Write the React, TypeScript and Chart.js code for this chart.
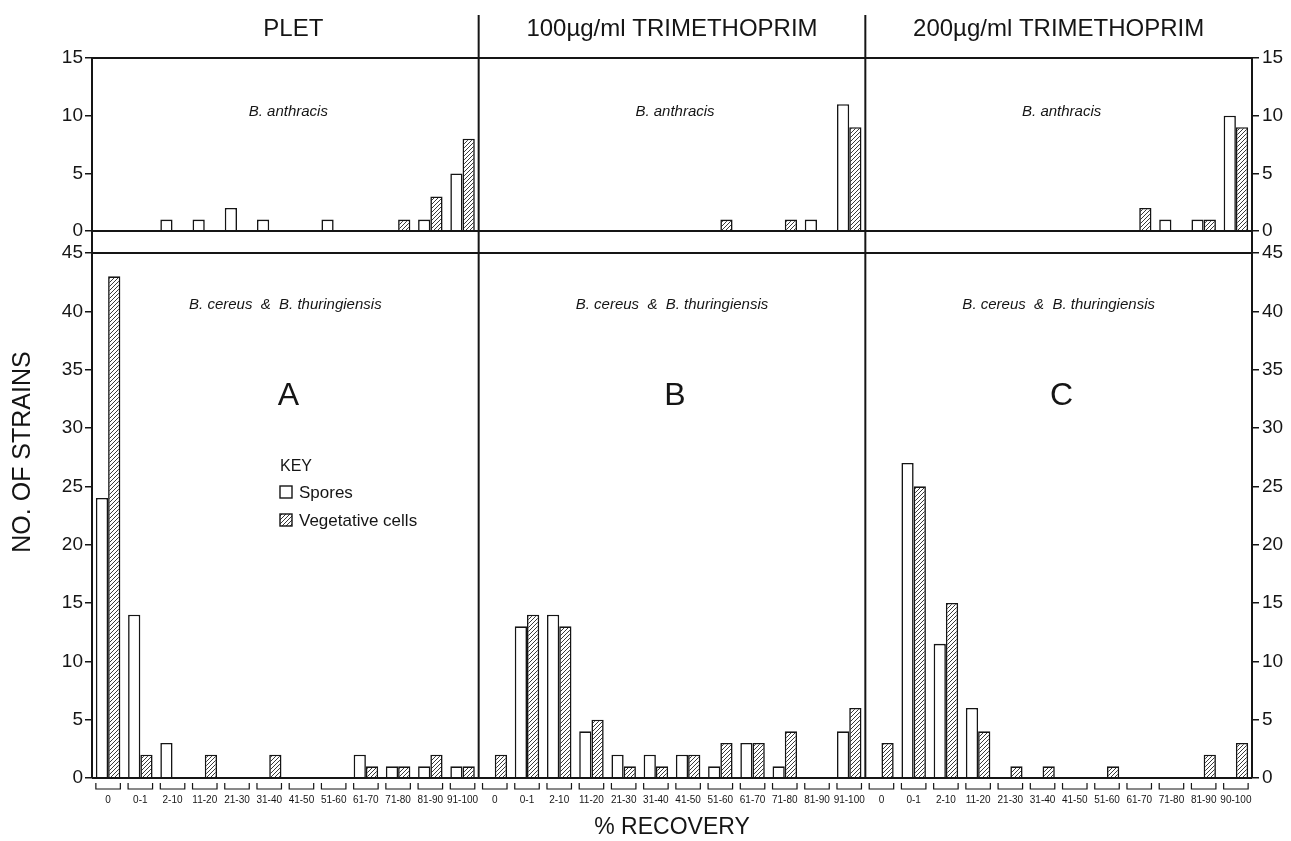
import React, { useEffect, useRef } from 'react';
import { Chart, registerables } from 'chart.js';

Chart.register(...registerables);

// ---------- DATA ----------
const panelTitles = ['PLET', '100µg/ml TRIMETHOPRIM', '200µg/ml TRIMETHOPRIM'];
const panelLetters = ['A', 'B', 'C'];
const topGroupLabel = 'B. anthracis';
const bottomGroupLabel = 'B. cereus  &  B. thuringiensis';
const seriesNames = ['Spores', 'Vegetative cells'];

const categoriesA = ['0', '0-1', '2-10', '11-20', '21-30', '31-40', '41-50', '51-60', '61-70', '71-80', '81-90', '91-100'];
const categoriesB = ['0', '0-1', '2-10', '11-20', '21-30', '31-40', '41-50', '51-60', '61-70', '71-80', '81-90', '91-100'];
const categoriesC = ['0', '0-1', '2-10', '11-20', '21-30', '31-40', '41-50', '51-60', '61-70', '71-80', '81-90', '90-100'];

// B. anthracis (upper panels)
const anthracisSporesA = [0, 0, 1, 1, 2, 1, 0, 1, 0, 0, 1, 5];
const anthracisVegA = [0, 0, 0, 0, 0, 0, 0, 0, 0, 1, 3, 8];
const anthracisSporesB = [0, 0, 0, 0, 0, 0, 0, 0, 0, 0, 1, 11];
const anthracisVegB = [0, 0, 0, 0, 0, 0, 0, 1, 0, 1, 0, 9];
const anthracisSporesC = [0, 0, 0, 0, 0, 0, 0, 0, 0, 1, 1, 10];
const anthracisVegC = [0, 0, 0, 0, 0, 0, 0, 0, 2, 0, 1, 9];

// B. cereus & B. thuringiensis (lower panels)
const cereusSporesA = [24, 14, 3, 0, 0, 0, 0, 0, 2, 1, 1, 1];
const cereusVegA = [43, 2, 0, 2, 0, 2, 0, 0, 1, 1, 2, 1];
const cereusSporesB = [0, 13, 14, 4, 2, 2, 2, 1, 3, 1, 0, 4];
const cereusVegB = [2, 14, 13, 5, 1, 1, 2, 3, 3, 4, 0, 6];
const cereusSporesC = [0, 27, 11.5, 6, 0, 0, 0, 0, 0, 0, 0, 0];
const cereusVegC = [3, 25, 15, 4, 1, 1, 0, 1, 0, 0, 2, 3];

const topTicks = [0, 5, 10, 15];
const bottomTicks = [0, 5, 10, 15, 20, 25, 30, 35, 40, 45];

const xTitle = '% RECOVERY';
const yTitle = 'NO. OF STRAINS';

// ---------- STYLE ----------
const FONT = '"Liberation Sans", Arial, sans-serif';
const INK = '#151515';

function makeHatch(): CanvasPattern | string {
  const c = document.createElement('canvas');
  c.width = 4;
  c.height = 4;
  const g = c.getContext('2d');
  if (!g) return '#999';
  g.fillStyle = '#ffffff';
  g.fillRect(0, 0, 4, 4);
  g.strokeStyle = '#3a3a3a';
  g.lineWidth = 1;
  g.beginPath();
  g.moveTo(0, 4);
  g.lineTo(4, 0);
  g.moveTo(-1, 1);
  g.lineTo(1, -1);
  g.moveTo(3, 5);
  g.lineTo(5, 3);
  g.stroke();
  return g.createPattern(c, 'repeat') || '#999';
}

export default function App() {
  const ref = useRef<HTMLCanvasElement>(null);

  useEffect(() => {
    const canvas = ref.current;
    if (!canvas) return;
    const hatch = makeHatch();

    const labels = [...categoriesA, ...categoriesB, ...categoriesC];
    const topSpores = [...anthracisSporesA, ...anthracisSporesB, ...anthracisSporesC];
    const topVeg = [...anthracisVegA, ...anthracisVegB, ...anthracisVegC];
    const botSpores = [...cereusSporesA, ...cereusSporesB, ...cereusSporesC];
    const botVeg = [...cereusVegA, ...cereusVegB, ...cereusVegC];
    const perPanel = categoriesA.length;

    const barCommon = {
      borderColor: INK,
      borderWidth: 1.6,
      categoryPercentage: 0.76,
      barPercentage: 1.0,
    };

    const line = (ctx: CanvasRenderingContext2D, x1: number, y1: number, x2: number, y2: number) => {
      ctx.beginPath();
      ctx.moveTo(x1, y1);
      ctx.lineTo(x2, y2);
      ctx.stroke();
    };

    const decor = {
      id: 'decor',
      beforeDraw(chart: any) {
        const ctx = chart.ctx;
        ctx.save();
        ctx.fillStyle = '#ffffff';
        ctx.fillRect(0, 0, chart.width, chart.height);
        ctx.restore();
      },
      afterDraw(chart: any) {
        const ctx: CanvasRenderingContext2D = chart.ctx;
        const { left, right, top, bottom } = chart.chartArea;
        const x = chart.scales.x;
        const yT = chart.scales.yTop;
        const yB = chart.scales.yBot;
        const step = x.getPixelForValue(1) - x.getPixelForValue(0);
        const div1 = (x.getPixelForValue(perPanel - 1) + x.getPixelForValue(perPanel)) / 2;
        const div2 = (x.getPixelForValue(2 * perPanel - 1) + x.getPixelForValue(2 * perPanel)) / 2;
        const edges = [left, div1, div2, right];
        const centers = [0, 1, 2].map((i) => (edges[i] + edges[i + 1]) / 2);

        ctx.save();
        ctx.strokeStyle = INK;
        ctx.lineWidth = 2;
        const hy = [yT.getPixelForValue(15), yT.getPixelForValue(0), yB.getPixelForValue(45), yB.getPixelForValue(0)];
        hy.forEach((yy) => line(ctx, left, yy, right, yy));
        line(ctx, left, top, left, bottom);
        line(ctx, right, top, right, bottom);
        line(ctx, div1, 15, div1, bottom);
        line(ctx, div2, 15, div2, bottom);

        // brackets under categories
        ctx.lineWidth = 1.2;
        const half = step * 0.38;
        for (let i = 0; i < labels.length; i++) {
          const cx = x.getPixelForValue(i);
          ctx.beginPath();
          ctx.moveTo(cx - half, bottom + 5);
          ctx.lineTo(cx - half, bottom + 11);
          ctx.lineTo(cx + half, bottom + 11);
          ctx.lineTo(cx + half, bottom + 5);
          ctx.stroke();
        }

        ctx.fillStyle = INK;
        ctx.textAlign = 'center';
        ctx.textBaseline = 'middle';
        // panel titles
        ctx.font = `24px ${FONT}`;
        panelTitles.forEach((t, i) => ctx.fillText(t, centers[i] + (i === 0 ? 8 : 0), 29));
        // group labels
        ctx.font = `italic 15px ${FONT}`;
        centers.forEach((c) => ctx.fillText(topGroupLabel, c + 3, 112));
        centers.forEach((c) => ctx.fillText(bottomGroupLabel, c, 305));
        // panel letters
        ctx.font = `32px ${FONT}`;
        panelLetters.forEach((t, i) => ctx.fillText(t, centers[i] + 3, 396));

        // key
        const kx = left + 188;
        ctx.textAlign = 'left';
        ctx.font = `16px ${FONT}`;
        ctx.fillText('KEY', kx, 467);
        ctx.font = `17px ${FONT}`;
        ctx.lineWidth = 1.4;
        ctx.fillStyle = '#ffffff';
        ctx.fillRect(kx, 486, 12, 12);
        ctx.strokeRect(kx, 486, 12, 12);
        ctx.fillStyle = hatch as any;
        ctx.fillRect(kx, 514, 12, 12);
        ctx.strokeRect(kx, 514, 12, 12);
        ctx.fillStyle = INK;
        ctx.fillText(seriesNames[0], kx + 19, 493);
        ctx.fillText(seriesNames[1], kx + 19, 521);

        // y title
        ctx.save();
        ctx.translate(23, 452);
        ctx.rotate(-Math.PI / 2);
        ctx.textAlign = 'center';
        ctx.font = `25px ${FONT}`;
        ctx.fillText(yTitle, 0, 0);
        ctx.restore();

        ctx.restore();
      },
    };

    const yCommon = (extra: any) => ({
      type: 'linear',
      stacked: false,
      bounds: 'data',
      border: { display: false },
      grid: { display: true, drawOnChartArea: false, drawTicks: true, tickLength: 7, tickColor: INK, color: INK, lineWidth: 1.5 },
      ticks: { padding: 2, font: { family: FONT, size: 19 }, color: INK },
      ...extra,
    });

    const chart = new Chart(canvas, {
      type: 'bar',
      data: {
        labels,
        datasets: [
          { label: seriesNames[0], data: topSpores, yAxisID: 'yTop', stack: 's', backgroundColor: '#ffffff', ...barCommon },
          { label: seriesNames[1], data: topVeg, yAxisID: 'yTop', stack: 'v', backgroundColor: hatch as any, ...barCommon },
          { label: seriesNames[0], data: botSpores, yAxisID: 'yBot', stack: 's', backgroundColor: '#ffffff', ...barCommon },
          { label: seriesNames[1], data: botVeg, yAxisID: 'yBot', stack: 'v', backgroundColor: hatch as any, ...barCommon },
        ] as any,
      },
      options: {
        responsive: false,
        animation: false,
        layout: { padding: { top: 58, left: 0, right: 0, bottom: 0 } },
        plugins: {
          legend: { display: false },
          tooltip: { enabled: false },
          title: { display: false },
        },
        scales: {
          x: {
            type: 'category',
            offset: true,
            grid: { display: false, drawTicks: false },
            border: { display: false },
            ticks: {
              autoSkip: false,
              maxRotation: 0,
              minRotation: 0,
              padding: 16,
              font: { family: FONT, size: 10 },
              color: INK,
            },
            title: { display: true, text: xTitle, font: { family: FONT, size: 23 }, color: INK, padding: 0 },
            afterFit: (s: any) => {
              s.height = 63;
            },
          },
          yTop: yCommon({
            position: 'left',
            stack: 'left',
            stackWeight: 195,
            weight: 1,
            min: -1.9,
            max: 15,
            afterBuildTicks: (s: any) => {
              s.ticks = topTicks.map((v) => ({ value: v }));
            },
            afterFit: (s: any) => {
              s.width = 92;
            },
          }),
          yBot: yCommon({
            position: 'left',
            stack: 'left',
            stackWeight: 525,
            weight: 0,
            min: 0,
            max: 45,
            afterBuildTicks: (s: any) => {
              s.ticks = bottomTicks.map((v) => ({ value: v }));
            },
            afterFit: (s: any) => {
              s.width = 92;
            },
          }),
          yTopR: yCommon({
            position: 'right',
            stack: 'right',
            stackWeight: 195,
            weight: 0,
            min: -1.9,
            max: 15,
            ticks: { padding: 3, font: { family: FONT, size: 19 }, color: INK },
            afterBuildTicks: (s: any) => {
              s.ticks = topTicks.map((v) => ({ value: v }));
            },
            afterFit: (s: any) => {
              s.width = 39;
            },
          }),
          yBotR: yCommon({
            position: 'right',
            stack: 'right',
            stackWeight: 525,
            weight: 1,
            min: 0,
            max: 45,
            ticks: { padding: 3, font: { family: FONT, size: 19 }, color: INK },
            afterBuildTicks: (s: any) => {
              s.ticks = bottomTicks.map((v) => ({ value: v }));
            },
            afterFit: (s: any) => {
              s.width = 39;
            },
          }),
        } as any,
      },
      plugins: [decor],
    });

    return () => {
      chart.destroy();
    };
  }, []);

  return (
    <canvas
      ref={ref}
      width={1291}
      height={841}
      style={{ position: 'fixed', left: 0, top: 0, display: 'block', background: '#fff' }}
    />
  );
}
